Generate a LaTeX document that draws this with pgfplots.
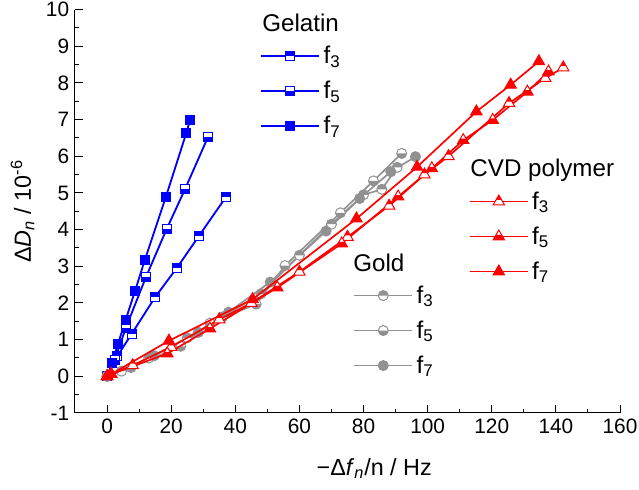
\documentclass[border=0pt]{standalone}
\usepackage{fontspec}
\setmainfont{Liberation Sans}
\usepackage{pgfplots}
\pgfplotsset{compat=1.18}

% half filled marks: white body, one half in the fill colour
\pgfdeclareplotmark{sqU}{%
  \begin{pgfscope}\pgfsetfillcolor{white}%
  \pgfpathrectangle{\pgfqpoint{-\pgfplotmarksize}{-\pgfplotmarksize}}{\pgfqpoint{2\pgfplotmarksize}{2\pgfplotmarksize}}%
  \pgfusepathqfill\end{pgfscope}%
  \pgfpathrectangle{\pgfqpoint{-\pgfplotmarksize}{0pt}}{\pgfqpoint{2\pgfplotmarksize}{\pgfplotmarksize}}%
  \pgfusepathqfill
  \pgfpathrectangle{\pgfqpoint{-\pgfplotmarksize}{-\pgfplotmarksize}}{\pgfqpoint{2\pgfplotmarksize}{2\pgfplotmarksize}}%
  \pgfusepathqstroke}
\pgfdeclareplotmark{sqD}{%
  \begin{pgfscope}\pgfsetfillcolor{white}%
  \pgfpathrectangle{\pgfqpoint{-\pgfplotmarksize}{-\pgfplotmarksize}}{\pgfqpoint{2\pgfplotmarksize}{2\pgfplotmarksize}}%
  \pgfusepathqfill\end{pgfscope}%
  \pgfpathrectangle{\pgfqpoint{-\pgfplotmarksize}{-\pgfplotmarksize}}{\pgfqpoint{2\pgfplotmarksize}{\pgfplotmarksize}}%
  \pgfusepathqfill
  \pgfpathrectangle{\pgfqpoint{-\pgfplotmarksize}{-\pgfplotmarksize}}{\pgfqpoint{2\pgfplotmarksize}{2\pgfplotmarksize}}%
  \pgfusepathqstroke}
\pgfdeclareplotmark{cU}{%
  \begin{pgfscope}\pgfsetfillcolor{white}%
  \pgfpathcircle{\pgfpointorigin}{\pgfplotmarksize}\pgfusepathqfill\end{pgfscope}%
  \pgfpathmoveto{\pgfqpoint{\pgfplotmarksize}{0pt}}\pgfpatharc{0}{180}{\pgfplotmarksize}\pgfpathclose
  \pgfusepathqfill
  \pgfpathcircle{\pgfpointorigin}{\pgfplotmarksize}\pgfusepathqstroke}
\pgfdeclareplotmark{cD}{%
  \begin{pgfscope}\pgfsetfillcolor{white}%
  \pgfpathcircle{\pgfpointorigin}{\pgfplotmarksize}\pgfusepathqfill\end{pgfscope}%
  \pgfpathmoveto{\pgfqpoint{-\pgfplotmarksize}{0pt}}\pgfpatharc{180}{360}{\pgfplotmarksize}\pgfpathclose
  \pgfusepathqfill
  \pgfpathcircle{\pgfpointorigin}{\pgfplotmarksize}\pgfusepathqstroke}
\def\tripath{%
  \pgfpathmoveto{\pgfqpoint{0pt}{1.155\pgfplotmarksize}}%
  \pgfpathlineto{\pgfqpoint{\pgfplotmarksize}{-0.577\pgfplotmarksize}}%
  \pgfpathlineto{\pgfqpoint{-\pgfplotmarksize}{-0.577\pgfplotmarksize}}\pgfpathclose}
\pgfdeclareplotmark{tF}{\tripath\pgfusepathqfillstroke}
\pgfdeclareplotmark{tU}{%
  \begin{pgfscope}\pgfsetfillcolor{white}\tripath\pgfusepathqfill\end{pgfscope}%
  \pgfpathmoveto{\pgfqpoint{0pt}{1.155\pgfplotmarksize}}%
  \pgfpathlineto{\pgfqpoint{0.5\pgfplotmarksize}{0.289\pgfplotmarksize}}%
  \pgfpathlineto{\pgfqpoint{-0.5\pgfplotmarksize}{0.289\pgfplotmarksize}}\pgfpathclose
  \pgfusepathqfill
  \tripath\pgfusepathqstroke}
\pgfdeclareplotmark{tD}{%
  \begin{pgfscope}\pgfsetfillcolor{white}\tripath\pgfusepathqfill\end{pgfscope}%
  \pgfpathmoveto{\pgfqpoint{-0.5\pgfplotmarksize}{0.289\pgfplotmarksize}}%
  \pgfpathlineto{\pgfqpoint{0.5\pgfplotmarksize}{0.289\pgfplotmarksize}}%
  \pgfpathlineto{\pgfqpoint{\pgfplotmarksize}{-0.577\pgfplotmarksize}}%
  \pgfpathlineto{\pgfqpoint{-\pgfplotmarksize}{-0.577\pgfplotmarksize}}\pgfpathclose
  \pgfusepathqfill
  \tripath\pgfusepathqstroke}

\definecolor{gry}{RGB}{145,145,145}

\tikzset{ttl/.style={anchor=base west, font=\fontsize{14.5}{17}\selectfont, inner sep=0pt}}
\pgfplotsset{
  base/.style={
    scale only axis, width=327pt, height=242pt,
    xmin=-10, xmax=160, ymin=-1, ymax=10,
    clip=false, at={(0,0)}, anchor=south west,
    legend style={draw=none, fill=none, font=\fontsize{14.5}{17}\selectfont,
      anchor=north west, row sep=5pt, inner sep=0pt, cells={anchor=west}},
    legend image code/.code={\draw[mark repeat=2,mark phase=2]
      plot coordinates {(0pt,0pt)(17.5pt,0pt)(35pt,0pt)};},
  },
  blu/.style={blue, line width=1.1pt, mark size=2.7pt,
    mark options={solid, line width=0.6pt, fill=blue}},
  gld/.style={gry, line width=1pt, mark size=3pt,
    mark options={solid, line width=0.6pt, fill=gry}},
  cvd/.style={red, line width=1pt, mark size=3.4pt,
    mark options={solid, line width=0.6pt, fill=red}},
}

\begin{document}
\begin{tikzpicture}
% Gelatin axis carries the axis lines and labels
\begin{axis}[base,
    axis lines=left, axis line style={-, line width=0.6pt},
    tick align=inside, tick style={black, line width=0.6pt},
    major tick length=5pt, minor tick length=2.5pt,
    xtick={0,20,...,160}, minor x tick num=1,
    ytick={-1,0,...,10}, minor y tick num=1,
    /pgf/number format/assume math mode=true,
    tick label style={font=\fontsize{12.5}{15}\selectfont},
    xlabel={−Δ\textit{f}\textsubscript{\textit{n}}/n / Hz},
    ylabel={Δ\textit{D}\textsubscript{\textit{n}} / 10\textsuperscript{-6}},
    label style={font=\fontsize{14}{16}\selectfont},
    xlabel style={yshift=-8pt, xshift=16pt},
    legend style={at={(axis description cs:0.339,0.918)}},
  ]
  \addplot[blu, mark=sqU] coordinates {
    (0,0)(3.2,0.55)(7.7,1.16)(15,2.16)(21.8,2.96)(28.6,3.82)(37,4.88)};
  \addlegendentry{f\textsubscript{3}}
  \addplot[blu, mark=sqD] coordinates {
    (0,0)(2.4,0.45)(5.9,1.33)(12.1,2.7)(18.6,4.02)(24.3,5.1)(31.5,6.53)};
  \addlegendentry{f\textsubscript{5}}
  \addplot[blu, mark=square*] coordinates {
    (0,0)(1.5,0.35)(3.4,0.88)(5.8,1.54)(8.7,2.32)(11.8,3.18)(18.3,4.88)(24.7,6.63)(25.9,6.99)};
  \addlegendentry{f\textsubscript{7}}
  \node[ttl] at (axis description cs:0.343,0.945) {Gelatin};
\end{axis}

% Gold
\begin{axis}[base, hide axis,
    legend style={at={(axis description cs:0.51,0.325)}},
  ]
  \addplot[gld, mark=cU] coordinates {
    (0,0)(4.5,0.14)(13,0.5)(25,1.05)(36,1.62)(48,2.25)(60,3.3)(70,4.15)(80,4.95)(85.7,5.1)(90.5,5.7)};
  \addlegendentry{f\textsubscript{3}}
  \addplot[gld, mark=cD] coordinates {
    (0,0)(7.5,0.24)(23,0.82)(32.1,1.45)(46.5,1.97)(55.5,3.02)(72.8,4.46)(83.1,5.33)(91.9,6.08)};
  \addlegendentry{f\textsubscript{5}}
  \addplot[gld, mark=*] coordinates {
    (0,0)(14.7,0.56)(28.5,1.2)(37.9,1.75)(50.9,2.57)(68.3,3.96)(78.8,4.85)(88.5,5.58)(96.2,5.99)};
  \addlegendentry{f\textsubscript{7}}
  \node[ttl] at (axis description cs:0.51,0.35) {Gold};
\end{axis}

% CVD polymer
\begin{axis}[base, hide axis,
    legend style={at={(axis description cs:0.722,0.558)}},
  ]
  \addplot[cvd, mark=tU] coordinates {
    (0,0)(8,0.3)(20,0.8)(35,1.55)(45,2.0)(60,2.85)(75,3.8)(88,4.65)(99,5.5)(106.5,6.0)(125.4,7.45)(136.7,8.13)(142.3,8.42)};
  \addlegendentry{f\textsubscript{3}}
  \addplot[cvd, mark=tD] coordinates {
    (0,0)(1.3,0.06)(18.8,0.62)(32.1,1.3)(53.1,2.42)(73.2,3.62)(90.8,4.9)(101.3,5.67)(111.1,6.44)(120.3,6.99)(131.1,7.76)(137.7,8.31)};
  \addlegendentry{f\textsubscript{5}}
  \addplot[cvd, mark=tF] coordinates {
    (0,0)(1.3,0.06)(19.3,0.97)(45.4,2.1)(77.8,4.3)(96.7,5.71)(115.2,7.22)(125.9,7.95)(134.7,8.59)};
  \addlegendentry{f\textsubscript{7}}
  \node[ttl] at (axis description cs:0.725,0.586) {CVD polymer};
\end{axis}

\pgfresetboundingbox
\path[use as bounding box] (-45pt,-46pt) rectangle (338.4pt,247.8pt);
\end{tikzpicture}
\end{document}
